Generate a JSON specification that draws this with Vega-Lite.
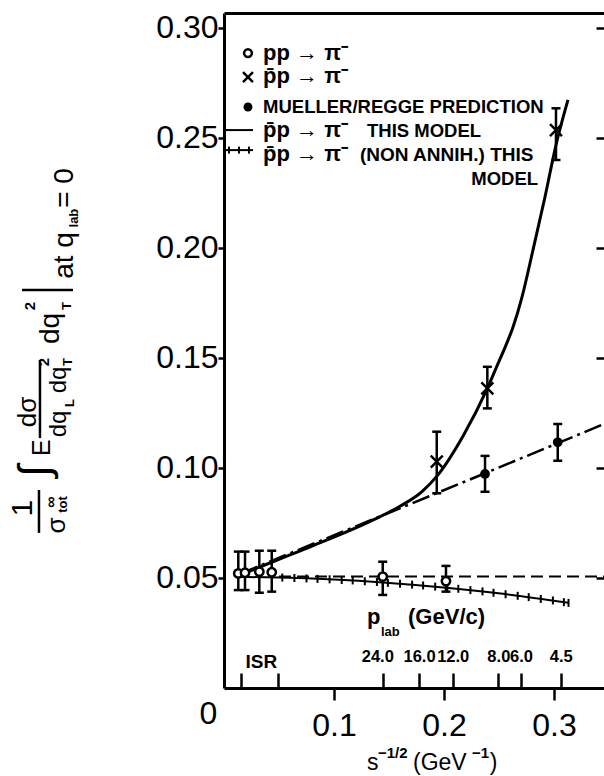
{
"$schema": "https://vega.github.io/schema/vega-lite/v6.json",
"width": 380, "height": 675,
"autosize": {"type": "none"},
"padding": {"left": 224, "top": 13, "right": 0, "bottom": 88},
"background": "white",
"config": {"view": {"stroke": null}, "text": {"font": "Liberation Sans", "color": "black"}},
"data": {"values": [{}]},
"datasets": {
 "curve": [{"x":0.013,"y":0.051},{"x":0.045,"y":0.0575},{"x":0.08,"y":0.0645},{"x":0.1357,"y":0.0764},{"x":0.16,"y":0.0826},{"x":0.18,"y":0.0893},{"x":0.1934,"y":0.0962},{"x":0.2176,"y":0.1148},{"x":0.2394,"y":0.1362},{"x":0.2482,"y":0.1464},{"x":0.2555,"y":0.1548},{"x":0.2627,"y":0.1640},{"x":0.2709,"y":0.1777},{"x":0.2809,"y":0.1991},{"x":0.2918,"y":0.2232},{"x":0.3018,"y":0.2468},{"x":0.3127,"y":0.2673}],
 "regge": [{"x":0.015,"y":0.052},{"x":0.16,"y":0.0817},{"x":0.2373,"y":0.0976},{"x":0.3034,"y":0.1113},{"x":0.3455,"y":0.12}],
 "flat": [{"x":0.05,"y":0.0507},{"x":0.3455,"y":0.0507}],
 "nonann": [{"x":0.013,"y":0.0505},{"x":0.05,"y":0.0502},{"x":0.1,"y":0.0493},{"x":0.1443,"y":0.048},{"x":0.2018,"y":0.0456},{"x":0.2536,"y":0.0428},{"x":0.3132,"y":0.0387}],
 "nonticks": [{"x":0.053,"y":0.0502},{"x":0.064,"y":0.05},{"x":0.075,"y":0.0498},{"x":0.085,"y":0.0496},{"x":0.096,"y":0.0494},{"x":0.107,"y":0.0491},{"x":0.117,"y":0.0489},{"x":0.128,"y":0.0485},{"x":0.139,"y":0.0482},{"x":0.149,"y":0.0478},{"x":0.16,"y":0.0474},{"x":0.171,"y":0.047},{"x":0.181,"y":0.0466},{"x":0.192,"y":0.0461},{"x":0.203,"y":0.0456},{"x":0.213,"y":0.0451},{"x":0.224,"y":0.0445},{"x":0.235,"y":0.0439},{"x":0.245,"y":0.0433},{"x":0.256,"y":0.0426},{"x":0.267,"y":0.0419},{"x":0.277,"y":0.0413},{"x":0.288,"y":0.0405},{"x":0.299,"y":0.0398},{"x":0.309,"y":0.039},{"x":0.3132,"y":0.0387}],
 "pts": [
  {"set":"pp","x":0.013,"y":0.0521,"lo":0.0445,"hi":0.062},
  {"set":"pp","x":0.0191,"y":0.0524,"lo":0.0445,"hi":0.062},
  {"set":"pp","x":0.0321,"y":0.0529,"lo":0.0433,"hi":0.0624},
  {"set":"pp","x":0.0434,"y":0.0526,"lo":0.0438,"hi":0.0624},
  {"set":"pp","x":0.1443,"y":0.0506,"lo":0.0423,"hi":0.0574},
  {"set":"pp","x":0.2018,"y":0.0486,"lo":0.0438,"hi":0.0555},
  {"set":"ppbar","x":0.1934,"y":0.1029,"lo":0.0885,"hi":0.1165},
  {"set":"ppbar","x":0.2394,"y":0.1362,"lo":0.1271,"hi":0.146},
  {"set":"ppbar","x":0.3018,"y":0.2536,"lo":0.24,"hi":0.2635},
  {"set":"regge","x":0.2373,"y":0.0973,"lo":0.0892,"hi":0.1055},
  {"set":"regge","x":0.3034,"y":0.1117,"lo":0.1033,"hi":0.12}
 ]
},
"resolve": {"axis": {"x": "independent", "y": "independent"}},
"layer": [
 {"data": {"name": "curve"},
  "mark": {"type": "line", "color": "black", "strokeWidth": 3, "interpolate": "monotone"},
  "encoding": {
   "x": {"field": "x", "type": "quantitative", "scale": {"domain": [0, 0.345455], "nice": false, "zero": false},
    "axis": {"orient": "bottom", "values": [0, 0.1, 0.2, 0.3], "labelExpr": "datum.value == 0 ? '0' : format(datum.value, '.1f')", "title": null, "grid": false,
     "domainColor": "black", "domainWidth": 3, "tickColor": "black", "tickWidth": 2.5, "tickSize": 12,
     "tickOpacity": {"condition": {"test": "datum.value == 0", "value": 0}, "value": 1},
     "labelFont": "Liberation Sans", "labelFontSize": 32, "labelColor": "black",
     "labelPadding": {"condition": {"test": "datum.value == 0", "value": -2}, "value": 10},
     "labelOffset": {"condition": {"test": "datum.value == 0", "value": -16}, "value": 0},
     "labelOverlap": false, "labelFlush": false}},
   "y": {"field": "y", "type": "quantitative", "scale": {"domain": [0, 0.306818], "nice": false, "zero": false},
    "axis": {"orient": "left", "values": [0.05, 0.1, 0.15, 0.2, 0.25, 0.3], "format": ".2f", "title": null, "grid": false,
     "domainColor": "black", "domainWidth": 3, "tickColor": "black", "tickWidth": 2.5, "tickSize": 6,
     "labelFont": "Liberation Sans", "labelFontSize": 32, "labelColor": "black", "labelPadding": 0,
     "labelOverlap": false, "labelFlush": false}}
  }},
 {"data": {"name": "regge"},
  "mark": {"type": "line", "color": "black", "strokeWidth": 2.5, "strokeDash": [18, 5, 3, 5]},
  "encoding": {
   "x": {"field": "x", "type": "quantitative", "scale": {"domain": [0, 0.345455], "nice": false, "zero": false},
    "axis": {"orient": "top", "offset": -675, "values": [0.0155, 0.0488, 0.1448, 0.1773, 0.2079, 0.2494, 0.27, 0.3061],
     "labelExpr": "datum.value < 0.1 ? '' : datum.value < 0.16 ? '24.0' : datum.value < 0.19 ? '16.0' : datum.value < 0.23 ? '12.0' : datum.value < 0.26 ? '8.0' : datum.value < 0.29 ? '6.0' : '4.5'",
     "domain": false, "grid": false, "title": null, "tickColor": "black", "tickWidth": 2.5, "tickSize": 15,
     "labelFont": "Liberation Sans", "labelFontSize": 16.5, "labelFontWeight": "bold", "labelColor": "black", "labelPadding": 9,
     "labelOffset": {"condition": {"test": "datum.value < 0.16", "value": -6}, "value": 0},
     "labelOverlap": false, "labelFlush": false}},
   "y": {"field": "y", "type": "quantitative", "scale": {"domain": [0, 0.306818], "nice": false, "zero": false},
    "axis": {"orient": "right", "values": [0.05, 0.1, 0.15, 0.2, 0.25, 0.3], "labels": false, "domain": false, "grid": false, "title": null,
     "tickColor": "black", "tickWidth": 2.5, "tickSize": -8}}
  }},
 {"data": {"name": "flat"},
  "mark": {"type": "line", "color": "black", "strokeWidth": 2, "strokeDash": [12, 6]},
  "encoding": {
   "x": {"field": "x", "type": "quantitative", "scale": {"domain": [0, 0.345455], "nice": false, "zero": false},
    "axis": {"orient": "top", "offset": -675, "values": [0.0335], "labelExpr": "'ISR'", "ticks": false, "tickSize": 0, "domain": false, "grid": false, "title": null,
     "labelFont": "Liberation Sans", "labelFontSize": 19, "labelFontWeight": "bold", "labelColor": "black", "labelPadding": 17,
     "labelOverlap": false, "labelFlush": false}},
   "y": {"field": "y", "type": "quantitative", "axis": null}
  }},
 {"data": {"name": "nonann"},
  "mark": {"type": "line", "color": "black", "strokeWidth": 2, "interpolate": "monotone"},
  "encoding": {
   "x": {"field": "x", "type": "quantitative", "scale": {"domain": [0, 0.345455], "nice": false, "zero": false},
    "axis": {"orient": "top", "domain": true, "domainColor": "black", "domainWidth": 3, "ticks": false, "labels": false, "grid": false, "title": null}},
   "y": {"field": "y", "type": "quantitative", "axis": null}
  }},
 {"data": {"name": "nonticks"},
  "mark": {"type": "point", "shape": "M0,-1L0,1", "size": 64, "color": "black", "strokeWidth": 2, "opacity": 1},
  "encoding": {"x": {"field": "x", "type": "quantitative", "axis": null}, "y": {"field": "y", "type": "quantitative", "axis": null}}},
 {"data": {"name": "pts"},
  "mark": {"type": "rule", "color": "black", "strokeWidth": 2.5},
  "encoding": {"x": {"field": "x", "type": "quantitative", "axis": null}, "y": {"field": "lo", "type": "quantitative", "axis": null}, "y2": {"field": "hi"}}},
 {"data": {"name": "pts"},
  "mark": {"type": "point", "shape": "M-1,0L1,0", "size": 81, "color": "black", "strokeWidth": 2.5, "opacity": 1},
  "encoding": {"x": {"field": "x", "type": "quantitative", "axis": null}, "y": {"field": "lo", "type": "quantitative", "axis": null}}},
 {"data": {"name": "pts"},
  "mark": {"type": "point", "shape": "M-1,0L1,0", "size": 81, "color": "black", "strokeWidth": 2.5, "opacity": 1},
  "encoding": {"x": {"field": "x", "type": "quantitative", "axis": null}, "y": {"field": "hi", "type": "quantitative", "axis": null}}},
 {"data": {"name": "pts"}, "transform": [{"filter": "datum.set == 'pp'"}],
  "mark": {"type": "point", "shape": "circle", "size": 70, "filled": true, "fill": "white", "stroke": "black", "strokeWidth": 2.5, "opacity": 1},
  "encoding": {"x": {"field": "x", "type": "quantitative", "axis": null}, "y": {"field": "y", "type": "quantitative", "axis": null}}},
 {"data": {"name": "pts"}, "transform": [{"filter": "datum.set == 'ppbar'"}],
  "mark": {"type": "point", "shape": "M-1,-1L1,1M-1,1L1,-1", "size": 144, "stroke": "black", "strokeWidth": 2.5, "opacity": 1},
  "encoding": {"x": {"field": "x", "type": "quantitative", "axis": null}, "y": {"field": "y", "type": "quantitative", "axis": null}}},
 {"data": {"name": "pts"}, "transform": [{"filter": "datum.set == 'regge'"}],
  "mark": {"type": "point", "shape": "circle", "size": 95, "filled": true, "color": "black", "opacity": 1},
  "encoding": {"x": {"field": "x", "type": "quantitative", "axis": null}, "y": {"field": "y", "type": "quantitative", "axis": null}}},

 {"mark": {"type": "point", "shape": "circle", "size": 60, "filled": true, "fill": "white", "stroke": "black", "strokeWidth": 2.5, "opacity": 1},
  "encoding": {"x": {"datum": 0.0218, "axis": null}, "y": {"datum": 0.2886, "axis": null}}},
 {"mark": {"type": "point", "shape": "M-1,-1L1,1M-1,1L1,-1", "size": 100, "stroke": "black", "strokeWidth": 2.5, "opacity": 1},
  "encoding": {"x": {"datum": 0.0218, "axis": null}, "y": {"datum": 0.2777, "axis": null}}},
 {"mark": {"type": "point", "shape": "circle", "size": 80, "filled": true, "color": "black", "opacity": 1},
  "encoding": {"x": {"datum": 0.0218, "axis": null}, "y": {"datum": 0.2641, "axis": null}}},
 {"mark": {"type": "rule", "color": "black", "strokeWidth": 2},
  "encoding": {"x": {"datum": 0.0009, "axis": null}, "x2": {"datum": 0.0264}, "y": {"datum": 0.2536, "axis": null}}},
 {"mark": {"type": "rule", "color": "black", "strokeWidth": 2},
  "encoding": {"x": {"datum": 0.0009, "axis": null}, "x2": {"datum": 0.0264}, "y": {"datum": 0.2445, "axis": null}}},
 {"mark": {"type": "point", "shape": "M0,-1L0,1", "size": 49, "color": "black", "strokeWidth": 2, "opacity": 1},
  "encoding": {"x": {"datum": 0.0045, "axis": null}, "y": {"datum": 0.2445, "axis": null}}},
 {"mark": {"type": "point", "shape": "M0,-1L0,1", "size": 49, "color": "black", "strokeWidth": 2, "opacity": 1},
  "encoding": {"x": {"datum": 0.0136, "axis": null}, "y": {"datum": 0.2445, "axis": null}}},
 {"mark": {"type": "point", "shape": "M0,-1L0,1", "size": 49, "color": "black", "strokeWidth": 2, "opacity": 1},
  "encoding": {"x": {"datum": 0.0227, "axis": null}, "y": {"datum": 0.2445, "axis": null}}},

 {"mark": {"type": "text", "text": "pp \u2192 \u03c0\u207b", "fontSize": 22, "fontWeight": "bold", "align": "left", "baseline": "alphabetic"},
  "encoding": {"x": {"datum": 0.0355, "axis": null}, "y": {"datum": 0.2855, "axis": null}}},
 {"mark": {"type": "text", "text": "p\u0304p \u2192 \u03c0\u207b", "fontSize": 22, "fontWeight": "bold", "align": "left", "baseline": "alphabetic"},
  "encoding": {"x": {"datum": 0.0355, "axis": null}, "y": {"datum": 0.275, "axis": null}}},
 {"mark": {"type": "text", "text": "MUELLER/REGGE PREDICTION", "fontSize": 18.5, "fontWeight": "bold", "align": "left", "baseline": "alphabetic"},
  "encoding": {"x": {"datum": 0.0355, "axis": null}, "y": {"datum": 0.2614, "axis": null}}},
 {"mark": {"type": "text", "text": "p\u0304p \u2192 \u03c0\u207b", "fontSize": 22, "fontWeight": "bold", "align": "left", "baseline": "alphabetic"},
  "encoding": {"x": {"datum": 0.0355, "axis": null}, "y": {"datum": 0.2505, "axis": null}}},
 {"mark": {"type": "text", "text": "THIS  MODEL", "fontSize": 18.5, "fontWeight": "bold", "align": "left", "baseline": "alphabetic"},
  "encoding": {"x": {"datum": 0.13, "axis": null}, "y": {"datum": 0.2505, "axis": null}}},
 {"mark": {"type": "text", "text": "p\u0304p \u2192 \u03c0\u207b", "fontSize": 22, "fontWeight": "bold", "align": "left", "baseline": "alphabetic"},
  "encoding": {"x": {"datum": 0.0355, "axis": null}, "y": {"datum": 0.2395, "axis": null}}},
 {"mark": {"type": "text", "text": "(NON ANNIH.) THIS", "fontSize": 19, "fontWeight": "bold", "align": "left", "baseline": "alphabetic"},
  "encoding": {"x": {"datum": 0.1236, "axis": null}, "y": {"datum": 0.2395, "axis": null}}},
 {"mark": {"type": "text", "text": "MODEL", "fontSize": 18.5, "fontWeight": "bold", "align": "right", "baseline": "alphabetic"},
  "encoding": {"x": {"datum": 0.2855, "axis": null}, "y": {"datum": 0.2286, "axis": null}}},

 {"mark": {"type": "text", "text": "p", "fontSize": 22, "fontWeight": "bold", "align": "left", "baseline": "alphabetic"},
  "encoding": {"x": {"datum": 0.13, "axis": null}, "y": {"datum": 0.0291, "axis": null}}},
 {"mark": {"type": "text", "text": "lab", "fontSize": 13, "fontWeight": "bold", "align": "left", "baseline": "alphabetic"},
  "encoding": {"x": {"datum": 0.1427, "axis": null}, "y": {"datum": 0.0236, "axis": null}}},
 {"mark": {"type": "text", "text": "(GeV/c)", "fontSize": 22, "fontWeight": "bold", "align": "left", "baseline": "alphabetic"},
  "encoding": {"x": {"datum": 0.1673, "axis": null}, "y": {"datum": 0.0291, "axis": null}}},

 {"mark": {"type": "text", "text": "s", "fontSize": 23, "align": "left", "baseline": "alphabetic"},
  "encoding": {"x": {"datum": 0.13, "axis": null}, "y": {"datum": -0.0373, "axis": null}}},
 {"mark": {"type": "text", "text": "\u22121/2", "fontSize": 15, "fontWeight": "bold", "align": "left", "baseline": "alphabetic"},
  "encoding": {"x": {"datum": 0.14, "axis": null}, "y": {"datum": -0.0318, "axis": null}}},
 {"mark": {"type": "text", "text": "(GeV", "fontSize": 23, "align": "left", "baseline": "alphabetic"},
  "encoding": {"x": {"datum": 0.1718, "axis": null}, "y": {"datum": -0.0373, "axis": null}}},
 {"mark": {"type": "text", "text": "\u22121", "fontSize": 15, "fontWeight": "bold", "align": "left", "baseline": "alphabetic"},
  "encoding": {"x": {"datum": 0.2255, "axis": null}, "y": {"datum": -0.0318, "axis": null}}},
 {"mark": {"type": "text", "text": ")", "fontSize": 23, "align": "left", "baseline": "alphabetic"},
  "encoding": {"x": {"datum": 0.2415, "axis": null}, "y": {"datum": -0.0373, "axis": null}}},

 {"mark": {"type": "text", "text": "1", "angle": 270, "fontSize": 30, "align": "center", "baseline": "alphabetic"},
  "encoding": {"x": {"datum": -0.1745, "axis": null}, "y": {"datum": 0.0818, "axis": null}}},
 {"mark": {"type": "rule", "color": "black", "strokeWidth": 2.5},
  "encoding": {"x": {"datum": -0.1682, "axis": null}, "y": {"datum": 0.0705, "axis": null}, "y2": {"datum": 0.09}}},
 {"mark": {"type": "text", "text": "\u03c3", "angle": 270, "fontSize": 26, "align": "center", "baseline": "alphabetic"},
  "encoding": {"x": {"datum": -0.1445, "axis": null}, "y": {"datum": 0.0739, "axis": null}}},
 {"mark": {"type": "text", "text": "\u221e", "angle": 270, "fontSize": 16, "fontWeight": "bold", "align": "center", "baseline": "alphabetic"},
  "encoding": {"x": {"datum": -0.1527, "axis": null}, "y": {"datum": 0.0845, "axis": null}}},
 {"mark": {"type": "text", "text": "tot", "angle": 270, "fontSize": 13, "fontWeight": "bold", "align": "center", "baseline": "alphabetic"},
  "encoding": {"x": {"datum": -0.1427, "axis": null}, "y": {"datum": 0.0834, "axis": null}}},
 {"mark": {"type": "text", "text": "\u222b", "angle": 270, "fontSize": 44, "align": "center", "baseline": "middle"},
  "encoding": {"x": {"datum": -0.1705, "axis": null}, "y": {"datum": 0.0986, "axis": null}}},
 {"mark": {"type": "text", "text": "E", "angle": 270, "fontSize": 25, "align": "center", "baseline": "alphabetic"},
  "encoding": {"x": {"datum": -0.1582, "axis": null}, "y": {"datum": 0.1093, "axis": null}}},
 {"mark": {"type": "text", "text": "d\u03c3", "angle": 270, "fontSize": 26, "align": "center", "baseline": "alphabetic"},
  "encoding": {"x": {"datum": -0.1709, "axis": null}, "y": {"datum": 0.1255, "axis": null}}},
 {"mark": {"type": "rule", "color": "black", "strokeWidth": 2.5},
  "encoding": {"x": {"datum": -0.1673, "axis": null}, "y": {"datum": 0.1136, "axis": null}, "y2": {"datum": 0.1491}}},
 {"mark": {"type": "text", "text": "dq", "angle": 270, "fontSize": 24, "align": "center", "baseline": "alphabetic"},
  "encoding": {"x": {"datum": -0.1436, "axis": null}, "y": {"datum": 0.12, "axis": null}}},
 {"mark": {"type": "text", "text": "L", "angle": 270, "fontSize": 13, "fontWeight": "bold", "align": "center", "baseline": "alphabetic"},
  "encoding": {"x": {"datum": -0.1364, "axis": null}, "y": {"datum": 0.1295, "axis": null}}},
 {"mark": {"type": "text", "text": "dq", "angle": 270, "fontSize": 24, "align": "center", "baseline": "alphabetic"},
  "encoding": {"x": {"datum": -0.1436, "axis": null}, "y": {"datum": 0.14, "axis": null}}},
 {"mark": {"type": "text", "text": "2", "angle": 270, "fontSize": 15, "fontWeight": "bold", "align": "center", "baseline": "alphabetic"},
  "encoding": {"x": {"datum": -0.1591, "axis": null}, "y": {"datum": 0.1482, "axis": null}}},
 {"mark": {"type": "text", "text": "T", "angle": 270, "fontSize": 13, "fontWeight": "bold", "align": "center", "baseline": "alphabetic"},
  "encoding": {"x": {"datum": -0.1382, "axis": null}, "y": {"datum": 0.1482, "axis": null}}},
 {"mark": {"type": "text", "text": "dq", "angle": 270, "fontSize": 28, "align": "center", "baseline": "alphabetic"},
  "encoding": {"x": {"datum": -0.15, "axis": null}, "y": {"datum": 0.1634, "axis": null}}},
 {"mark": {"type": "text", "text": "2", "angle": 270, "fontSize": 15, "fontWeight": "bold", "align": "center", "baseline": "alphabetic"},
  "encoding": {"x": {"datum": -0.1718, "axis": null}, "y": {"datum": 0.1736, "axis": null}}},
 {"mark": {"type": "text", "text": "T", "angle": 270, "fontSize": 13, "fontWeight": "bold", "align": "center", "baseline": "alphabetic"},
  "encoding": {"x": {"datum": -0.1391, "axis": null}, "y": {"datum": 0.1736, "axis": null}}},
 {"mark": {"type": "rule", "color": "black", "strokeWidth": 2.5},
  "encoding": {"x": {"datum": -0.1836, "axis": null}, "x2": {"datum": -0.1373}, "y": {"datum": 0.1809, "axis": null}}},
 {"mark": {"type": "text", "text": "at q", "angle": 270, "fontSize": 28, "align": "center", "baseline": "alphabetic"},
  "encoding": {"x": {"datum": -0.1373, "axis": null}, "y": {"datum": 0.1966, "axis": null}}},
 {"mark": {"type": "text", "text": "lab", "angle": 270, "fontSize": 13, "fontWeight": "bold", "align": "center", "baseline": "alphabetic"},
  "encoding": {"x": {"datum": -0.1327, "axis": null}, "y": {"datum": 0.2136, "axis": null}}},
 {"mark": {"type": "text", "text": "= 0", "angle": 270, "fontSize": 28, "align": "center", "baseline": "alphabetic"},
  "encoding": {"x": {"datum": -0.1373, "axis": null}, "y": {"datum": 0.2273, "axis": null}}}
]
}
